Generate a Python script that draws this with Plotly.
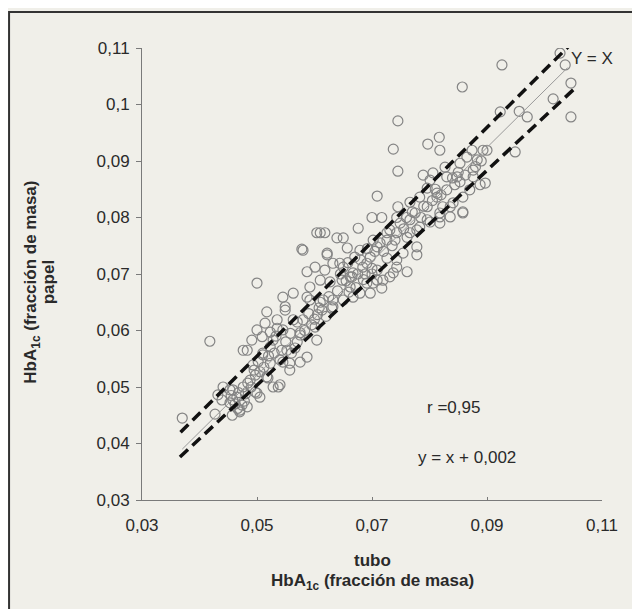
import plotly.graph_objects as go

# --- data ---
tubo = [0.0370,0.0418,0.0427,0.0441,0.0439,0.0465,0.0474,0.0470,0.0476,0.0453,
        0.0497,0.0476,0.0491,0.0500,0.0517,0.0505,0.0528,0.0537,0.0523,0.0545,
        0.0543,0.0523,0.0557,0.0510,0.0535,0.0549,0.0545,0.0575,0.0570,0.0580,
        0.0601,0.0604,0.0613,0.0563,0.0592,0.0615,0.0566,0.0575,0.0587,0.0528,
        0.0519,0.0497,0.0484,0.0453,0.0432,0.0457,0.0505,0.0493,0.0509,0.0514,
        0.0500,0.0549,0.0578,0.0604,0.0745,0.0737,0.0745,0.0797,0.0817,0.0818,
        0.0709,0.0700,0.0717,0.0676,0.0610,0.0650,0.0778,0.0778,0.0761,0.0897,
        0.0923,0.0926,0.0857,0.0956,0.0970,0.0949,0.1015,0.1027,0.1036,0.1046,
        0.1046,0.0893,0.0580,0.0657,0.0622,0.0601,0.0587,0.0618,0.0644,0.0627,
        0.0648,0.0665,0.0691,0.0679,0.0709,0.0726,0.0731,0.0749,0.0745,0.0766,
        0.0775,0.0743,0.0731,0.0709,0.0691,0.0679,0.0662,0.0632,0.0610,0.0697,
        0.0717,0.0709,0.0726,0.0754,0.0761,0.0796,0.0796,0.0813,0.0830,0.0844,
        0.0841,0.0858,0.0858,0.0818,0.0818,0.0836,0.0796,0.0876,0.0888,0.0870,
        0.0789,0.0806,0.0830,0.0823,0.0778,0.0743,0.0592,0.0610,0.0587,0.0650,
        0.0667,0.0632,0.0874,0.0900,0.0883,0.0865,0.0876,0.0853,0.0848,0.0827,
        0.0801,0.0783,0.0813,0.0853,0.0836,0.0858,0.0818,0.0743,0.0726,0.0702,
        0.0618,0.0766,0.0783,0.0801,0.0743,0.0667,0.0632,0.0650,0.0684,0.0697,
        0.0714,0.0766,0.0737,0.0719,0.0702,0.0458,0.0458,0.0470,0.0483,0.0500,
        0.0483,0.0540,0.0517,0.0552,0.0557,0.0540,0.0545,0.0563,0.0575,0.0535,
        0.0523,0.0510,0.0488,0.0622,0.0662,0.0639,0.0462,0.0478,0.0466,0.0600,
        0.0620,0.0630,0.0605,0.0660,0.0672,0.0688,0.0655,0.0680,0.0692,
        0.0455,0.0468,0.0480,0.0490,0.0495,0.0502,0.0512,0.0520,0.0530,0.0533,
        0.0550,0.0558,0.0560,0.0570,0.0583,0.0590,0.0595,0.0608,0.0625,0.0640,
        0.0645,0.0658,0.0670,0.0685,0.0700,0.0705,0.0720,0.0735,0.0740,0.0755,
        0.0760,0.0770,0.0785,0.0790,0.0805,0.0810,0.0820,0.0840,0.0850,0.0862,
        0.0880,0.0890,0.0700,0.0675]
papel = [0.0445,0.0581,0.0452,0.0500,0.0477,0.0482,0.0468,0.0456,0.0500,0.0472,
         0.0491,0.0565,0.0583,0.0601,0.0633,0.0527,0.0500,0.0500,0.0542,0.0544,
         0.0565,0.0571,0.0530,0.0557,0.0604,0.0636,0.0659,0.0592,0.0615,0.0619,
         0.0606,0.0583,0.0636,0.0666,0.0654,0.0654,0.0569,0.0544,0.0553,0.0583,
         0.0516,0.0521,0.0507,0.0495,0.0486,0.0450,0.0482,0.0539,0.0589,0.0613,
         0.0684,0.0642,0.0744,0.0773,0.0971,0.0921,0.0882,0.0930,0.0942,0.0919,
         0.0838,0.0800,0.0800,0.0781,0.0773,0.0764,0.0748,0.0734,0.0704,0.0861,
         0.0987,0.1070,0.1031,0.0988,0.0978,0.0916,0.1010,0.1091,0.1070,0.1038,
         0.0978,0.0919,0.0742,0.0746,0.0734,0.0712,0.0704,0.0707,0.0719,0.0686,
         0.0689,0.0695,0.0719,0.0742,0.0748,0.0760,0.0778,0.0790,0.0819,0.0827,
         0.0808,0.0712,0.0695,0.0689,0.0684,0.0666,0.0677,0.0654,0.0650,0.0666,
         0.0675,0.0707,0.0728,0.0737,0.0765,0.0852,0.0819,0.0836,0.0849,0.0858,
         0.0826,0.0836,0.0810,0.0801,0.0790,0.0801,0.0796,0.0872,0.0858,0.0849,
         0.0875,0.0879,0.0872,0.0819,0.0778,0.0773,0.0677,0.0689,0.0659,0.0654,
         0.0659,0.0642,0.0919,0.0919,0.0902,0.0907,0.0884,0.0896,0.0872,0.0889,
         0.0866,0.0836,0.0843,0.0863,0.0819,0.0808,0.0808,0.0800,0.0773,0.0760,
         0.0773,0.0773,0.0783,0.0792,0.0725,0.0702,0.0719,0.0712,0.0712,0.0730,
         0.0755,0.0796,0.0702,0.0689,0.0684,0.0495,0.0477,0.0459,0.0465,0.0489,
         0.0565,0.0504,0.0518,0.0565,0.0542,0.0548,0.0601,0.0619,0.0596,0.0619,
         0.0597,0.0560,0.0512,0.0737,0.0695,0.0764,0.0470,0.0475,0.0462,0.0620,
         0.0625,0.0640,0.0628,0.0668,0.0676,0.0700,0.0688,0.0725,0.0745,
         0.0485,0.0490,0.0488,0.0500,0.0530,0.0545,0.0535,0.0555,0.0560,0.0590,
         0.0580,0.0595,0.0560,0.0580,0.0600,0.0630,0.0610,0.0640,0.0660,0.0670,
         0.0700,0.0720,0.0730,0.0690,0.0710,0.0740,0.0740,0.0750,0.0760,0.0780,
         0.0800,0.0810,0.0800,0.0820,0.0830,0.0850,0.0840,0.0870,0.0880,0.0875,
         0.0890,0.0900,0.0700,0.0700]

# reference lines (end points)
yx_x = [0.0370, 0.1040]
yx_y = [0.0390, 0.1065]
upper_x = [0.0367, 0.1041]
upper_y = [0.0420, 0.1102]
lower_x = [0.0366, 0.1050]
lower_y = [0.0376, 0.1026]

x_ticks = [0.03, 0.05, 0.07, 0.09, 0.11]
x_tick_labels = ["0,03", "0,05", "0,07", "0,09", "0,11"]
y_ticks = [0.03, 0.04, 0.05, 0.06, 0.07, 0.08, 0.09, 0.10, 0.11]
y_tick_labels = ["0,03", "0,04", "0,05", "0,06", "0,07", "0,08", "0,09", "0,1", "0,11"]

FONT = "Liberation Sans, Arial, sans-serif"
BG = "#f0efe9"
TXT = "#2a2a2a"

fig = go.Figure()
fig.add_trace(go.Scatter(x=tubo, y=papel, mode="markers",
                         marker=dict(symbol="circle-open", size=10, color="#848484",
                                     line=dict(width=1.2)),
                         showlegend=False, hoverinfo="x+y"))
fig.add_trace(go.Scatter(x=yx_x, y=yx_y, mode="lines",
                         line=dict(color="#9a9a9a", width=1), showlegend=False))
fig.add_trace(go.Scatter(x=upper_x, y=upper_y, mode="lines",
                         line=dict(color="#111111", width=3.5, dash="11px,6px"),
                         showlegend=False))
fig.add_trace(go.Scatter(x=lower_x, y=lower_y, mode="lines",
                         line=dict(color="#111111", width=3.5, dash="11px,6px"),
                         showlegend=False))

fig.update_layout(
    width=632, height=601,
    margin=dict(l=134, r=38, t=40, b=109),
    paper_bgcolor=BG, plot_bgcolor=BG,
    font=dict(family=FONT, size=17, color=TXT),
    showlegend=False,
)
fig.update_xaxes(range=[0.03, 0.11], tickvals=x_ticks, ticktext=x_tick_labels,
                 showgrid=False, zeroline=False, showline=True, linecolor="#7a7a7a",
                 linewidth=1, ticks="inside", ticklen=3, tickcolor="#7a7a7a",
                 ticklabelstandoff=10, tickfont=dict(size=17, color=TXT))
fig.update_yaxes(range=[0.03, 0.11], tickvals=y_ticks, ticktext=y_tick_labels,
                 showgrid=False, zeroline=False, showline=True, linecolor="#7a7a7a",
                 linewidth=1, ticks="outside", ticklen=5, tickcolor="#7a7a7a",
                 ticklabelstandoff=3, tickfont=dict(size=17, color=TXT))

# axis titles (each line placed separately to match tight line spacing)
fig.add_annotation(xref="paper", yref="paper", x=-0.238, y=0.482,
                   text="<b>HbA<sub>1c</sub> (fracción de masa)</b>",
                   textangle=-90, showarrow=False, font=dict(size=17, color=TXT),
                   xanchor="center", yanchor="middle")
fig.add_annotation(xref="paper", yref="paper", x=-0.204, y=0.482,
                   text="<b>papel</b>",
                   textangle=-90, showarrow=False, font=dict(size=17, color=TXT),
                   xanchor="center", yanchor="middle")
fig.add_annotation(xref="paper", yref="paper", x=0.502, y=-0.133,
                   text="<b>tubo</b>",
                   showarrow=False, font=dict(size=17, color=TXT),
                   xanchor="center", yanchor="middle")
fig.add_annotation(xref="paper", yref="paper", x=0.502, y=-0.182,
                   text="<b>HbA<sub>1c</sub> (fracción de masa)</b>",
                   showarrow=False, font=dict(size=17, color=TXT),
                   xanchor="center", yanchor="middle")

# in-plot texts
fig.add_annotation(x=0.0841, y=0.0463, text="r =0,95", showarrow=False,
                   font=dict(size=17, color=TXT))
fig.add_annotation(x=0.0865, y=0.0376, text="y = x + 0,002", showarrow=False,
                   font=dict(size=17, color=TXT))
fig.add_annotation(x=0.1083, y=0.1082, text="Y = X", showarrow=False,
                   font=dict(size=17, color=TXT))

# outer frame (figure starts 8px into the page)
fig.add_shape(type="rect", xref="paper", yref="paper",
              x0=-0.289, x1=1.10, y0=-0.27, y1=1.0796,
              line=dict(color="#333333", width=2), layer="below")

fig.write_html("out.html")
